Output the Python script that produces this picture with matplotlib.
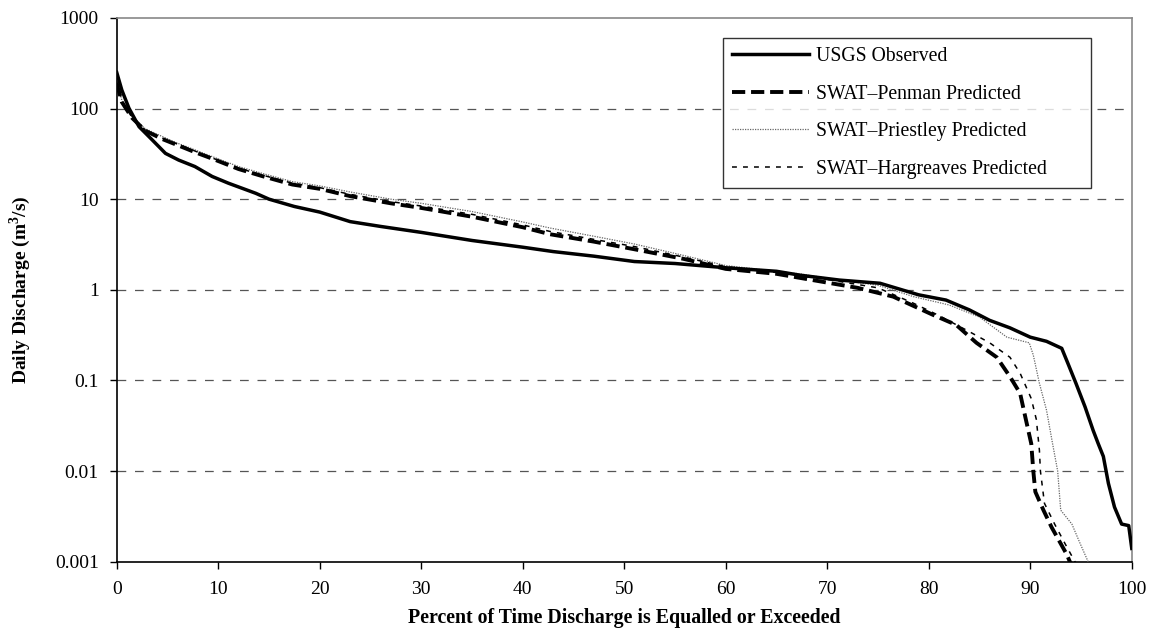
import matplotlib
matplotlib.use("Agg")
import matplotlib.pyplot as plt
import numpy as np

plt.rcParams['font.family'] = ['Liberation Serif', 'DejaVu Serif']
plt.rcParams['mathtext.fontset'] = 'custom'
plt.rcParams['mathtext.rm'] = 'Liberation Serif'
plt.rcParams['mathtext.bf'] = 'Liberation Serif:bold'

# ---- data (percent of time exceeded, discharge m3/s) ----
obs_pct = [0, 0.5, 1.2, 2.2, 3.5, 4.8, 6.1, 7.7, 9.4, 11, 13.7, 15, 17.5, 20, 23, 26, 30, 35,
           40, 43, 47, 51, 55, 60, 65, 67.3, 71.2, 75.2, 79, 81.7, 84, 86, 88, 90, 91.6, 93.1,
           93.7, 94.5, 95.4, 96.2, 96.7, 97.2, 97.7, 98.3, 99.0, 99.7, 100]
obs_val = [250, 160, 101, 63, 45, 32, 27, 22.9, 17.8, 15, 11.6, 10, 8.3, 7.2, 5.65, 5.0, 4.3, 3.5,
           2.95, 2.64, 2.35, 2.05, 1.95, 1.75, 1.6, 1.45, 1.28, 1.18, 0.88, 0.77, 0.6, 0.46, 0.38,
           0.30, 0.27, 0.226, 0.155, 0.093, 0.051, 0.028, 0.020, 0.0145, 0.0073, 0.004, 0.0026,
           0.0025, 0.0014]

pri_pct = [0, 0.5, 1.5, 2.8, 4.5, 6.1, 7.7, 9.4, 12, 14.3, 17.3, 20, 23, 27, 30, 35, 40, 42.7, 47,
           51, 55.8, 60, 65, 67.3, 71.2, 75, 78.5, 82, 85, 87.7, 89.9, 90.3, 90.9, 91.6, 92.2,
           92.7, 93.0, 94.1, 94.9, 95.7, 96]
pri_val = [210, 124, 81, 60, 49, 41, 35, 29.5, 22.9, 19.3, 15.6, 14, 12, 10, 9, 7.3, 5.6, 4.8, 3.9,
           3.2, 2.4, 1.85, 1.6, 1.5, 1.28, 1.12, 0.84, 0.68, 0.50, 0.30, 0.26, 0.19, 0.093, 0.047,
           0.020, 0.010, 0.0037, 0.0026, 0.0016, 0.0010, 0.0009]

har_pct = [0, 0.5, 1.5, 2.8, 4.5, 6.1, 7.7, 9.4, 12, 14.3, 17.3, 20, 23, 27, 30, 35, 40, 42.7, 47,
           51, 55.8, 60, 65, 70, 75, 78.5, 81, 84, 86, 88, 89, 90.1, 90.6, 90.9, 91.0, 91.4, 92.4,
           93.4, 94.4, 94.8]
har_val = [200, 120, 80, 58, 47, 40, 34, 28.5, 22, 18.5, 15, 13.4, 11.3, 9.4, 8.4, 6.8, 5.2, 4.4,
           3.6, 3.0, 2.3, 1.8, 1.55, 1.3, 1.05, 0.71, 0.52, 0.345, 0.26, 0.18, 0.12, 0.063, 0.037,
           0.017, 0.010, 0.0044, 0.0026, 0.0016, 0.0010, 0.0009]

pen_pct = [0, 0.5, 1.5, 2.8, 4.5, 6.1, 7.7, 9.4, 12, 14.3, 17.3, 20, 23, 27, 30, 35, 40, 42.7, 47,
           51, 55.8, 60, 65, 70, 73, 76.5, 80.4, 82.7, 84.7, 86.7, 88, 89, 89.5, 90.1, 90.3, 90.5,
           91.3, 92.1, 93.6, 93.9, 94.2]
pen_val = [190, 118, 79, 57, 46, 39, 33, 28, 21.5, 18, 14.5, 13, 10.8, 9.0, 8.0, 6.4, 4.9, 4.1,
           3.4, 2.8, 2.2, 1.7, 1.5, 1.2, 1.05, 0.84, 0.53, 0.41, 0.26, 0.18, 0.11, 0.072, 0.040,
           0.020, 0.010, 0.0059, 0.0037, 0.0024, 0.0012, 0.001, 0.0009]

labels = ["USGS Observed", "SWAT\u2013Penman Predicted", "SWAT\u2013Priestley Predicted",
          "SWAT\u2013Hargreaves Predicted"]
xticks = [0, 10, 20, 30, 40, 50, 60, 70, 80, 90, 100]
yticks = [0.001, 0.01, 0.1, 1, 10, 100, 1000]
ytick_labels = ["0.001", "0.01", "0.1", "1", "10", "100", "1000"]

fig = plt.figure(figsize=(11.49, 6.39), dpi=100)
ax = fig.add_axes([0.1016, 0.121, 0.8834, 0.851])

ax.set_yscale('log')
ax.set_xlim(0, 100)
ax.set_ylim(0.001, 1000)

# gridlines
for yv in [0.01, 0.1, 1, 10, 100]:
    ax.axhline(yv, color='#555555', lw=0.9, dashes=(7, 7), zorder=1)

ax.plot(pri_pct, pri_val, color='#666666', lw=0.9, dashes=(1, 1), label=labels[2], zorder=3)
ax.plot(har_pct, har_val, color='black', lw=1.1, dashes=(3.2, 4), label=labels[3], zorder=3)
ax.plot(pen_pct, pen_val, color='black', lw=2.8, dashes=(3.4, 1.5), label=labels[1], zorder=3)
ax.plot(obs_pct, obs_val, color='black', lw=2.5, solid_joinstyle='round', label=labels[0], zorder=4)

ax.set_xticks(xticks)
ax.set_xticklabels([str(v) for v in xticks])
ax.set_yticks(yticks)
ax.set_yticklabels(ytick_labels)
ax.yaxis.set_minor_locator(matplotlib.ticker.NullLocator())
ax.tick_params(axis='both', which='major', direction='out', length=5, width=1, labelsize=14,
               colors='black')
ax.tick_params(axis='x', pad=9)
ax.tick_params(axis='y', pad=8)

for s in ['left', 'bottom']:
    ax.spines[s].set_color('black')
    ax.spines[s].set_linewidth(1.2)
for s in ['top', 'right']:
    ax.spines[s].set_color('#888888')
    ax.spines[s].set_linewidth(1.2)

ax.set_xlabel("Percent of Time Discharge is Equalled or Exceeded", fontsize=14.3,
              fontweight='bold', labelpad=7)
ax.set_ylabel(r"Daily Discharge (m$^\mathbf{3}$/s)", fontsize=14, fontweight='bold', labelpad=16)

h, l = ax.get_legend_handles_labels()
order = [l.index(x) for x in labels]
leg = ax.legend([h[i] for i in order], [l[i] for i in order], loc='upper left',
                bbox_to_anchor=(0.597, 0.678, 0.3626, 0.285), mode='expand', frameon=True,
                fancybox=False, fontsize=14.2, handlelength=3.9, handletextpad=0.4,
                labelspacing=0.95, borderpad=0.45, borderaxespad=0.0, edgecolor='black')
leg.get_frame().set_linewidth(1.0)

fig.savefig("out.png", dpi=100, facecolor='white')
